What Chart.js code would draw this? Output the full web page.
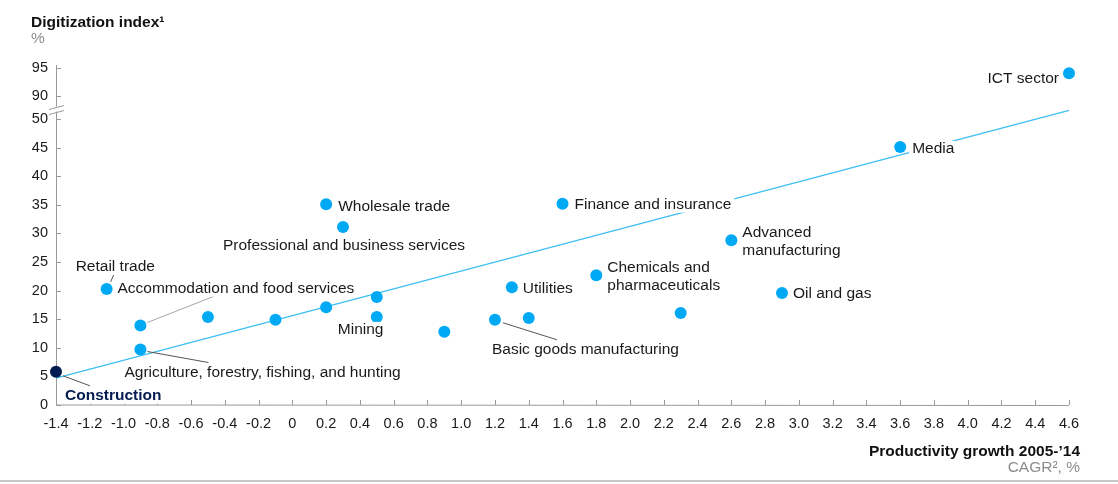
<!DOCTYPE html>
<html lang="en">
<head>
<meta charset="UTF-8">
<title>Digitization index vs productivity growth</title>
<script src="https://cdn.jsdelivr.net/npm/chart.js"></script>
<style>
    body { margin: 0; background: #fff; }
    #wrap { position: relative; width: 1118px; height: 484px; }
</style>
</head>
<body>
<div id="wrap"><canvas id="digitChart" width="1118" height="484"></canvas></div>
<script>

// values
const sectors = [
    'Construction', 'Retail trade', 'Accommodation and food services',
    'Agriculture, forestry, fishing, and hunting', '', '', '',
    'Wholesale trade', 'Professional and business services', '', 'Mining', '',
    'Basic goods manufacturing', 'Utilities', '', 'Finance and insurance',
    'Chemicals and pharmaceuticals', '', 'Advanced manufacturing', 'Oil and gas',
    'Media', 'ICT sector'
];
const growth = [-1.4, -1.1, -0.9, -0.9, -0.5, -0.1, 0.2, 0.2, 0.3, 0.5, 0.5, 0.9,
    1.2, 1.3, 1.4, 1.6, 1.8, 2.3, 2.6, 2.9, 3.6, 4.6];
const digitization = [5.8, 20.3, 13.9, 9.7, 15.4, 14.9, 17.1, 35.1, 31.1, 18.9, 15.4, 12.8,
    14.9, 20.6, 15.2, 35.2, 22.7, 16.1, 28.8, 19.6, 45.1, 94];

// trend line end points
const trendX = [-1.4, 4.6];
const trendY = [4.7, 51.5];

const xTicks = [-1.4, -1.2, -1.0, -0.8, -0.6, -0.4, -0.2, 0, 0.2, 0.4, 0.6, 0.8, 1.0, 1.2, 1.4,
    1.6, 1.8, 2.0, 2.2, 2.4, 2.6, 2.8, 3.0, 3.2, 3.4, 3.6, 3.8, 4.0, 4.2, 4.4, 4.6];
const yTicks = [0, 5, 10, 15, 20, 25, 30, 35, 40, 45, 50, 90, 95];

// broken y axis: everything from 90 up is pulled down by this much
const BREAK_SHIFT = 36;
const toAxis = v => v >= 90 ? v - BREAK_SHIFT : v;
const fromAxis = v => v > 52 ? v + BREAK_SHIFT : v;

const CYAN = '#00a9f4';
const NAVY = '#051c50';
const AXIS = '#9a9a9a';
const FONT = '"Liberation Sans", Arial, sans-serif';
const LABEL_SIZE = 15.5;

Chart.defaults.font.family = FONT;
Chart.defaults.font.size = 14.5;
Chart.defaults.color = '#1a1a1a';

// label placement, offsets in px from the dot
const labelLayout = {
    'Construction': { dx: 9, dy: 24, bold: true, color: NAVY, leader: [7, 4, 34, 14] },
    'Retail trade': { dx: -31, dy: -22, leader: [4, -7, 7, -14] },
    'Accommodation and food services': { dx: -23, dy: -37, leader: [7, -3, 73, -29], leaderColor: '#a6a6a6' },
    'Agriculture, forestry, fishing, and hunting': { dx: -16, dy: 23, leader: [7, 2, 68, 13] },
    'Wholesale trade': { dx: 12, dy: 2 },
    'Professional and business services': { dx: 1, dy: 19, align: 'center' },
    'Mining': { dx: -39, dy: 13 },
    'Basic goods manufacturing': { dx: -3, dy: 30, leader: [8, 3, 62, 20] },
    'Utilities': { dx: 11, dy: 2 },
    'Finance and insurance': { dx: 12, dy: 1 },
    'Chemicals and pharmaceuticals': { dx: 11, dy: -7, lines: ['Chemicals and', 'pharmaceuticals'] },
    'Advanced manufacturing': { dx: 11, dy: -8, lines: ['Advanced', 'manufacturing'] },
    'Oil and gas': { dx: 11, dy: 1 },
    'Media': { dx: 12, dy: 2 },
    'ICT sector': { dx: -10, dy: 5, align: 'right' }
};

const decor = {
    id: 'decor',
    beforeDatasetsDraw(chart) {
        const { ctx, chartArea: a, scales: { x, y } } = chart;
        ctx.save();
        ctx.strokeStyle = AXIS;
        ctx.lineWidth = 1;
        const breakY = y.getPixelForValue(52) + 1;
        // y axis with break
        ctx.beginPath();
        ctx.moveTo(a.left + 0.5, a.top);
        ctx.lineTo(a.left + 0.5, breakY - 2);
        ctx.moveTo(a.left + 0.5, breakY + 3);
        ctx.lineTo(a.left + 0.5, a.bottom);
        ctx.lineTo(a.right, a.bottom + 0.5);
        ctx.stroke();
        ctx.beginPath();
        ctx.moveTo(a.left - 7, breakY + 1);
        ctx.lineTo(a.left + 8, breakY - 3);
        ctx.moveTo(a.left - 7, breakY + 6);
        ctx.lineTo(a.left + 8, breakY + 2);
        ctx.stroke();
        // inner tick marks
        ctx.beginPath();
        yTicks.forEach(v => {
            const py = Math.round(y.getPixelForValue(toAxis(v))) + 0.5;
            ctx.moveTo(a.left, py);
            ctx.lineTo(a.left + 5, py);
        });
        xTicks.forEach(v => {
            const px = Math.round(x.getPixelForValue(v)) + 0.5;
            ctx.moveTo(px, a.bottom);
            ctx.lineTo(px, a.bottom - 5);
        });
        ctx.stroke();
        ctx.restore();
    },
    afterDatasetsDraw(chart) {
        const { ctx, scales: { x, y } } = chart;
        ctx.save();
        ctx.textBaseline = 'middle';
        sectors.forEach((name, i) => {
            const lay = labelLayout[name];
            if (!lay) return;
            const px = x.getPixelForValue(growth[i]);
            const py = y.getPixelForValue(toAxis(digitization[i]));
            if (lay.leader) {
                const [x1, y1, x2, y2] = lay.leader;
                ctx.strokeStyle = lay.leaderColor || '#555';
                ctx.lineWidth = 1;
                ctx.beginPath();
                ctx.moveTo(px + x1, py + y1);
                ctx.lineTo(px + x2, py + y2);
                ctx.stroke();
            }
            ctx.font = (lay.bold ? 'bold ' : '') + LABEL_SIZE + 'px ' + FONT;
            const lines = lay.lines || [name];
            const align = lay.align || 'left';
            lines.forEach((t, k) => {
                const w = ctx.measureText(t).width;
                const tx = px + lay.dx;
                const ty = py + lay.dy + k * 18;
                const left = align === 'left' ? tx : align === 'center' ? tx - w / 2 : tx - w;
                ctx.fillStyle = '#fff';
                ctx.fillRect(left - 3, ty - 8, w + 6, 16);
                ctx.fillStyle = lay.color || '#1a1a1a';
                ctx.textAlign = align;
                ctx.fillText(t, tx, ty);
            });
        });
        ctx.restore();
    },
    afterDraw(chart) {
        const { ctx, width, height } = chart;
        ctx.save();
        ctx.textBaseline = 'alphabetic';
        ctx.textAlign = 'left';
        ctx.fillStyle = '#111';
        ctx.font = 'bold 15.5px ' + FONT;
        ctx.fillText('Digitization index¹', 31, 27);
        ctx.fillStyle = '#8c8c8c';
        ctx.font = '15.5px ' + FONT;
        ctx.fillText('%', 31, 43);
        ctx.textAlign = 'right';
        ctx.fillStyle = '#111';
        ctx.font = 'bold 15.5px ' + FONT;
        ctx.fillText('Productivity growth 2005-\u201914', 1080, 456);
        ctx.fillStyle = '#8c8c8c';
        ctx.font = '15.5px ' + FONT;
        ctx.fillText('CAGR², %', 1080, 472);
        ctx.fillStyle = '#c8c8c8';
        ctx.fillRect(0, height - 4, width, 2);
        ctx.restore();
    }
};

const ctx = document.getElementById('digitChart').getContext('2d');

const digitChart = new Chart(ctx, {
    type: 'scatter',
    data: {
        datasets: [{
            label: 'Sectors',
            data: growth.map((g, i) => ({ x: g, y: toAxis(digitization[i]) })),
            pointRadius: 6,
            pointHoverRadius: 6,
            pointBorderWidth: 0,
            pointBackgroundColor: sectors.map(s => s === 'Construction' ? NAVY : CYAN),
            clip: false,
            order: 1
        }, {
            type: 'line',
            label: 'Trend',
            data: trendX.map((t, i) => ({ x: t, y: trendY[i] })),
            borderColor: '#3dbff2',
            borderWidth: 1.3,
            pointRadius: 0,
            fill: false,
            clip: false,
            order: 2
        }]
    },
    options: {
        responsive: false,
        animation: false,
        devicePixelRatio: 1,
        layout: { padding: { left: 0, right: 49, top: 65, bottom: 0 } },
        plugins: {
            legend: { display: false },
            tooltip: { enabled: false }
        },
        scales: {
            x: {
                type: 'linear',
                min: -1.4,
                max: 4.6,
                grid: { display: false, drawTicks: false },
                border: { display: false },
                afterBuildTicks: s => { s.ticks = xTicks.map(v => ({ value: v })); },
                afterFit: s => { s.height = 79; },
                ticks: {
                    autoSkip: false,
                    maxRotation: 0,
                    padding: 10,
                    callback: v => v === 0 ? '0' : v.toFixed(1)
                }
            },
            y: {
                type: 'linear',
                min: 0,
                max: 59.44,
                grid: { display: false, drawTicks: false },
                border: { display: false },
                afterBuildTicks: s => { s.ticks = yTicks.map(v => ({ value: toAxis(v) })); },
                afterFit: s => { s.width = 56; },
                ticks: {
                    padding: 8,
                    callback: v => String(Math.round(fromAxis(v)))
                }
            }
        }
    },
    plugins: [decor]
});
</script>
</body>
</html>
